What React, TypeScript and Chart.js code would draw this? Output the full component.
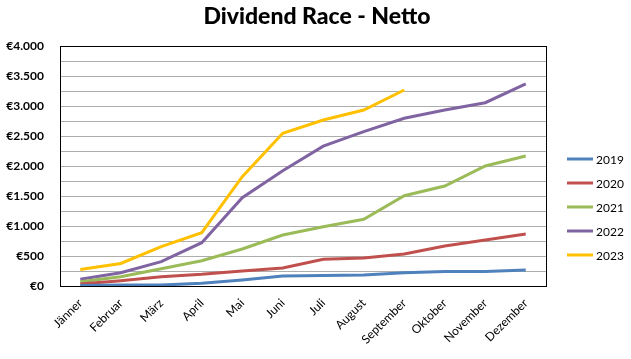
import React, { useEffect, useRef } from "react";
import { Chart, registerables } from "chart.js";

Chart.register(...registerables);

const months = ["Jänner", "Februar", "März", "April", "Mai", "Juni", "Juli", "August", "September", "Oktober", "November", "Dezember"];
const v2019 = [10, 15, 15, 45, 100, 165, 175, 183, 222, 240, 240, 265];
const v2020 = [33, 88, 155, 195, 250, 300, 445, 467, 533, 667, 767, 867];
const v2021 = [72, 155, 288, 422, 617, 850, 988, 1111, 1505, 1667, 2000, 2167];
const v2022 = [111, 222, 405, 722, 1472, 1922, 2330, 2572, 2795, 2933, 3055, 3367];
const v2023 = [275, 375, 655, 888, 1822, 2545, 2767, 2933, 3267, null, null, null];
const seriesNames = ["2019", "2020", "2021", "2022", "2023"];
const seriesColors = ["#4F81BD", "#C0504D", "#9BBB59", "#8064A2", "#FFC000"];
const titleText = "Dividend Race - Netto";

const W = 631;
const H = 359;
const AREA = { left: 60, right: 546, top: 46, bottom: 286 };

export default function App() {
  const ref = useRef<HTMLCanvasElement | null>(null);
  useEffect(() => {
    if (!ref.current) return;
    const values = [v2019, v2020, v2021, v2022, v2023];
    const fmt = (n: number) => "€" + n.toLocaleString("de-DE");
    const frame = {
      id: "frame",
      afterDraw(chart: any) {
        const { ctx, chartArea: a } = chart;
        ctx.save();
        ctx.strokeStyle = "#000";
        ctx.lineWidth = 1;
        ctx.strokeRect(Math.round(a.left) + 0.5, Math.round(a.top) + 0.5, Math.round(a.right - a.left), Math.round(a.bottom - a.top));
        // title
        ctx.fillStyle = "#000";
        ctx.font = "900 23px Lato, 'Open Sans', sans-serif";
        ctx.textAlign = "center";
        ctx.textBaseline = "middle";
        ctx.fillText(titleText, 317, 17);
        // legend
        ctx.font = "12px Lato, 'Open Sans', sans-serif";
        ctx.textAlign = "left";
        seriesNames.forEach((name, i) => {
          const y = 159 + i * 24;
          ctx.strokeStyle = seriesColors[i];
          ctx.lineWidth = 3;
          ctx.beginPath();
          ctx.moveTo(567, y);
          ctx.lineTo(593, y);
          ctx.stroke();
          ctx.fillStyle = "#000";
          ctx.fillText(name, 596, y + 1);
        });
        ctx.restore();
      },
    };
    const chart = new Chart(ref.current, {
      type: "line",
      data: {
        labels: months,
        datasets: seriesNames.map((name, i) => ({
          label: name,
          data: values[i],
          borderColor: seriesColors[i],
          backgroundColor: seriesColors[i],
          borderWidth: 3,
          pointRadius: 0,
          tension: 0,
          spanGaps: false,
        })),
      },
      options: {
        animation: false,
        responsive: false,
        layout: { padding: { top: AREA.top, right: W - AREA.right, left: 0, bottom: 0 } },
        plugins: { legend: { display: false }, title: { display: false }, tooltip: { enabled: false } },
        scales: {
          x: {
            offset: true,
            grid: { display: false },
            border: { display: false },
            ticks: {
              maxRotation: 45,
              minRotation: 45,
              autoSkip: false,
              color: "#000",
              font: { family: "Lato, 'Open Sans', sans-serif", size: 12 },
              padding: 2,
            },
            afterFit(scale: any) {
              scale.height = H - AREA.bottom;
            },
          },
          y: {
            min: 0,
            max: 4000,
            grid: { color: "#ADADAD", lineWidth: 1, drawTicks: false },
            border: { display: false },
            ticks: {
              stepSize: 250,
              autoSkip: false,
              color: "#000",
              padding: 16,
              font: { family: "Lato, 'Open Sans', sans-serif", size: 12, weight: "bold" },
              callback: (v: any) => (Number(v) % 500 === 0 ? fmt(Number(v)) : ""),
            },
            afterFit(scale: any) {
              scale.width = AREA.left;
            },
          },
        },
      },
      plugins: [frame],
    } as any);
    return () => chart.destroy();
  }, []);
  return (
    <div style={{ position: "absolute", left: 0, top: 0, width: W, height: H, background: "#fff" }}>
      <canvas ref={ref} width={W} height={H} style={{ width: W, height: H }} />
    </div>
  );
}
